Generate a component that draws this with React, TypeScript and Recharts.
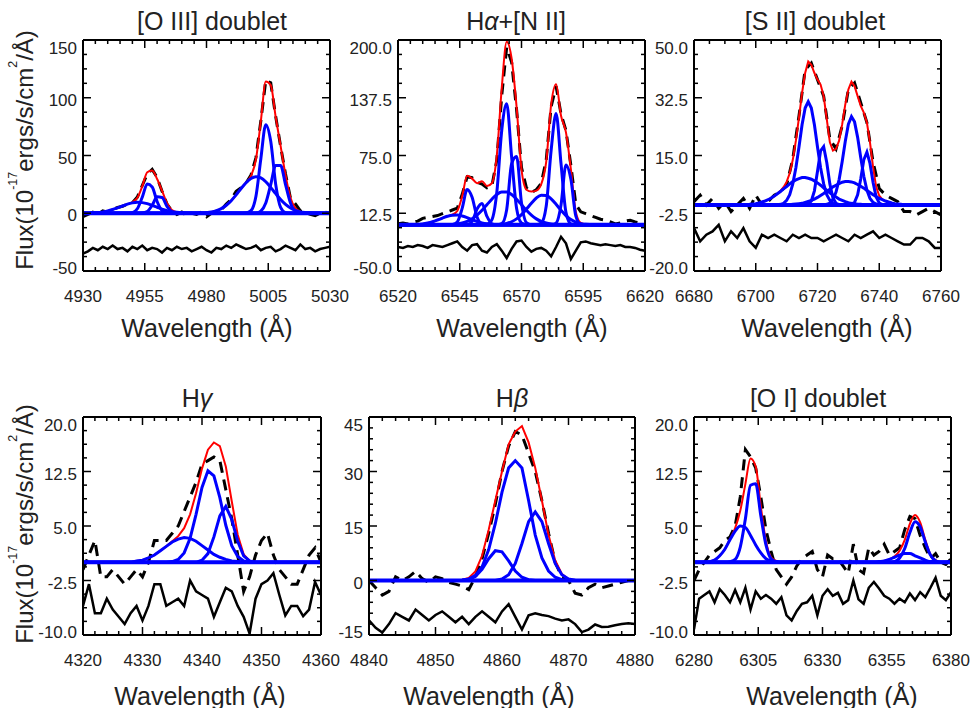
import type { ReactNode } from "react";
import { Line, LineChart, XAxis, YAxis } from "recharts";

const FONT = '"Liberation Sans", Arial, Helvetica, sans-serif';
const INK = "#222";
const RED = "#ff0000";
const BLUE = "#0000ff";

// fitted continuum level (spectra are continuum-subtracted)
const continuum = [0, 0];

// ---------- [O III] 4959, 5007 ----------
const o3XTicks = [4930, 4955, 4980, 5005, 5030];
const o3YTicks = [-50, 0, 50, 100, 150];
const o3Wave = [
  4930, 4932, 4934, 4936, 4938, 4940, 4942, 4944, 4946, 4948,
  4950, 4952, 4954, 4956, 4958, 4960, 4962, 4964, 4966, 4968,
  4970, 4972, 4974, 4976, 4978, 4980, 4982, 4984, 4986, 4988,
  4990, 4992, 4994, 4996, 4998, 5000, 5002, 5004, 5006, 5008,
  5010, 5012, 5014, 5016, 5018, 5020, 5022, 5024, 5026, 5028,
  5030,
];
const o3Obs = [
  -3, -1, 1, -1, 2, 1, 3, 5, 6, 8,
  9, 14, 24, 34, 38, 31, 19, 8, 2, -1,
  1, -2, 0, -1, 1, -3, 0, 2, 3, 8,
  12, 19, 22, 26, 33, 48, 80, 115, 113, 84,
  58, 34, 13, 8, 2, 1, -1, -2, 0, 1,
  0,
];
const o3Fit = [
  0.1, 0.1, 0.3, 0.6, 1.2, 2.0, 3.2, 4.7, 6.3, 7.9,
  9.5, 13.4, 23.4, 35.5, 37, 29.6, 19.5, 8.6, 2.7, 0.9,
  0.4, 0.2, 0.1, 0.1, 0.2, 0.5, 1.1, 2.2, 4.0, 6.9,
  10.9, 15.9, 21.4, 26.6, 32.3, 46.4, 79.7, 114, 111, 83.5,
  58.3, 32.9, 13.4, 4.4, 1.4, 0.6, 0.3, 0.1, 0, 0,
  0,
];
const o3Resid = [
  -35, -33, -30, -32, -29, -31, -28, -31, -30, -33,
  -29, -31, -28, -32, -30, -31, -34, -30, -32, -29,
  -31, -30, -33, -31, -29, -32, -34, -30, -31, -28,
  -30, -27, -29, -31, -30, -28, -32, -30, -29, -33,
  -31, -28, -30, -32, -27, -31, -30, -33, -31, -30,
  -29,
];
const o3BroadA = [
  0.1, 0.1, 0.3, 0.6, 1.2, 2.0, 3.2, 4.7, 6.3, 7.9,
  9.0, 9.5, 9.2, 8.3, 6.8, 5.2, 3.6, 2.3, 1.4, 0.8,
  0.4, 0.2, 0.1, 0, 0, 0, 0, 0, 0, 0,
  0, 0, 0, 0, 0, 0, 0, 0, 0, 0,
  0, 0, 0, 0, 0, 0, 0, 0, 0, 0,
  0,
];
const o3NarrowA = [
  0, 0, 0, 0, 0, 0, 0, 0, 0, 0,
  0.5, 3.9, 14.0, 25.3, 22.8, 10.2, 2.3, 0.3, 0, 0,
  0, 0, 0, 0, 0, 0, 0, 0, 0, 0,
  0, 0, 0, 0, 0, 0, 0, 0, 0, 0,
  0, 0, 0, 0, 0, 0, 0, 0, 0, 0,
  0,
];
const o3RedA = [
  0, 0, 0, 0, 0, 0, 0, 0, 0, 0,
  0, 0, 0.2, 1.5, 6.8, 14.2, 13.6, 6.0, 1.3, 0.1,
  0, 0, 0, 0, 0, 0, 0, 0, 0, 0,
  0, 0, 0, 0, 0, 0, 0, 0, 0, 0,
  0, 0, 0, 0, 0, 0, 0, 0, 0, 0,
  0,
];
const o3BroadB = [
  0, 0, 0, 0, 0, 0, 0, 0, 0, 0,
  0, 0, 0, 0, 0, 0, 0, 0, 0, 0,
  0, 0, 0, 0.1, 0.2, 0.5, 1.1, 2.2, 4.0, 6.9,
  10.9, 15.9, 21.4, 26.4, 30.1, 31.6, 30.6, 27.3, 22.4, 17.0,
  11.9, 7.6, 4.5, 2.5, 1.2, 0.6, 0.3, 0.1, 0, 0,
  0,
];
const o3NarrowB = [
  0, 0, 0, 0, 0, 0, 0, 0, 0, 0,
  0, 0, 0, 0, 0, 0, 0, 0, 0, 0,
  0, 0, 0, 0, 0, 0, 0, 0, 0, 0,
  0, 0, 0, 0.2, 2.2, 14.5, 47.2, 76.7, 62.3, 25.2,
  5.1, 0.5, 0, 0, 0, 0, 0, 0, 0, 0,
  0,
];
const o3RedB = [
  0, 0, 0, 0, 0, 0, 0, 0, 0, 0,
  0, 0, 0, 0, 0, 0, 0, 0, 0, 0,
  0, 0, 0, 0, 0, 0, 0, 0, 0, 0,
  0, 0, 0, 0, 0, 0, 1.9, 8.9, 24.8, 41.3,
  41.3, 24.8, 8.9, 1.9, 0.2, 0, 0, 0, 0, 0,
  0,
];

// ---------- H-alpha + [N II] ----------
const haXTicks = [6520, 6545, 6570, 6595, 6620];
const haYTicks = [-50, 12.5, 75, 137.5, 200];
const haWave = [
  6520, 6522, 6524, 6526, 6528, 6530, 6532, 6534, 6536, 6538,
  6540, 6542, 6544, 6546, 6548, 6550, 6552, 6554, 6556, 6558,
  6560, 6562, 6564, 6566, 6568, 6570, 6572, 6574, 6576, 6578,
  6580, 6582, 6584, 6586, 6588, 6590, 6592, 6594, 6596, 6598,
  6600, 6602, 6604, 6606, 6608, 6610, 6612, 6614, 6616, 6618,
  6620,
];
const haObs = [
  1, 2, 1, 3, 4, 7, 8, 9, 10, 12,
  14, 16, 18, 33, 52, 51, 46, 44, 40, 42,
  70, 140, 192, 176, 125, 62, 40, 35, 38, 45,
  70, 128, 150, 120, 102, 64, 22, 14, 12, 10,
  8, 6, 5, 3, 1, 2, 4, 5, 3, 2,
  1,
];
const haFit = [
  0, 0, 0.1, 0.2, 0.4, 0.9, 1.9, 3.3, 5.2, 7.3,
  9.4, 11, 15, 31, 53, 50, 45, 47, 42, 45,
  75, 148, 198, 180, 128, 60, 38, 36, 37, 44,
  68, 130, 152, 118, 100, 60, 14, 2, 0.5, 0.2,
  0, 0, 0, 0, 0, 0, 0, 0, 0, 0,
  0,
];
const haResid = [
  -24, -25, -23, -24, -22, -23, -25, -22, -23, -24,
  -22, -20, -18, -24, -28, -22, -21, -28, -30, -24,
  -21, -28, -36, -26, -18, -17, -24, -29, -26, -25,
  -28, -34, -24, -13, -20, -37, -28, -19, -18, -20,
  -21, -22, -21, -22, -23, -22, -24, -24, -25, -27,
  -28,
];
const haN1Broad = [
  0, 0, 0.1, 0.2, 0.4, 0.9, 1.9, 3.3, 5.2, 7.3,
  9.2, 10.4, 10.5, 9.5, 7.7, 5.6, 3.6, 2.1, 1.1, 0.5,
  0.2, 0.1, 0, 0, 0, 0, 0, 0, 0, 0,
  0, 0, 0, 0, 0, 0, 0, 0, 0, 0,
  0, 0, 0, 0, 0, 0, 0, 0, 0, 0,
  0,
];
const haN1Narrow = [
  0, 0, 0, 0, 0, 0, 0, 0, 0, 0,
  0, 0.2, 3.1, 18.1, 38.3, 29.8, 8.5, 0.9, 0, 0,
  0, 0, 0, 0, 0, 0, 0, 0, 0, 0,
  0, 0, 0, 0, 0, 0, 0, 0, 0, 0,
  0, 0, 0, 0, 0, 0, 0, 0, 0, 0,
  0,
];
const haN1Red = [
  0, 0, 0, 0, 0, 0, 0, 0, 0, 0,
  0, 0, 0, 0, 0.2, 3.7, 17.0, 23.1, 9.2, 1.1,
  0, 0, 0, 0, 0, 0, 0, 0, 0, 0,
  0, 0, 0, 0, 0, 0, 0, 0, 0, 0,
  0, 0, 0, 0, 0, 0, 0, 0, 0, 0,
  0,
];
const haBroad = [
  0, 0, 0, 0, 0, 0, 0, 0, 0, 0,
  0.2, 0.4, 0.9, 1.9, 3.6, 6.4, 10.4, 15.7, 21.7, 27.7,
  32.7, 35.4, 35.4, 32.7, 27.7, 21.7, 15.7, 10.4, 6.4, 3.6,
  1.9, 0.9, 0.4, 0.2, 0, 0, 0, 0, 0, 0,
  0, 0, 0, 0, 0, 0, 0, 0, 0, 0,
  0,
];
const haNarrow = [
  0, 0, 0, 0, 0, 0, 0, 0, 0, 0,
  0, 0, 0, 0, 0, 0, 0, 0, 0.3, 5.3,
  35.0, 102.1, 130.9, 73.4, 18.0, 2.0, 0.1, 0, 0, 0,
  0, 0, 0, 0, 0, 0, 0, 0, 0, 0,
  0, 0, 0, 0, 0, 0, 0, 0, 0, 0,
  0,
];
const haRed = [
  0, 0, 0, 0, 0, 0, 0, 0, 0, 0,
  0, 0, 0, 0, 0, 0, 0, 0, 0, 0,
  0, 1.2, 16.4, 66, 74, 23.7, 2.3, 0.1, 0, 0,
  0, 0, 0, 0, 0, 0, 0, 0, 0, 0,
  0, 0, 0, 0, 0, 0, 0, 0, 0, 0,
  0,
];
const haN2Broad = [
  0, 0, 0, 0, 0, 0, 0, 0, 0, 0,
  0, 0, 0, 0, 0, 0, 0, 0, 0, 0,
  0.2, 0.6, 1.5, 3.3, 6.4, 11.0, 17.0, 23.4, 29.0, 32.0,
  31.7, 28.0, 22.2, 15.7, 10.0, 5.7, 2.9, 1.3, 0.5, 0.2,
  0, 0, 0, 0, 0, 0, 0, 0, 0, 0,
  0,
];
const haN2Narrow = [
  0, 0, 0, 0, 0, 0, 0, 0, 0, 0,
  0, 0, 0, 0, 0, 0, 0, 0, 0, 0,
  0, 0, 0, 0, 0, 0, 0, 0, 0.1, 1.8,
  20.0, 80.7, 120.4, 66.1, 13.4, 1.0, 0, 0, 0, 0,
  0, 0, 0, 0, 0, 0, 0, 0, 0, 0,
  0,
];
const haN2Red = [
  0, 0, 0, 0, 0, 0, 0, 0, 0, 0,
  0, 0, 0, 0, 0, 0, 0, 0, 0, 0,
  0, 0, 0, 0, 0, 0, 0, 0, 0, 0,
  0, 0, 1.8, 21.5, 64.8, 49.2, 9.4, 0.4, 0, 0,
  0, 0, 0, 0, 0, 0, 0, 0, 0, 0,
  0,
];

// ---------- [S II] 6716, 6731 ----------
const s2XTicks = [6680, 6700, 6720, 6740, 6760];
const s2YTicks = [-20, -2.5, 15, 32.5, 50];
const s2Wave = [
  6680, 6682, 6684, 6686, 6688, 6690, 6692, 6694, 6696, 6698,
  6700, 6702, 6704, 6706, 6708, 6710, 6712, 6714, 6716, 6718,
  6720, 6722, 6724, 6726, 6728, 6730, 6732, 6734, 6736, 6738,
  6740, 6742, 6744, 6746, 6748, 6750, 6752, 6754, 6756, 6758,
  6760,
];
const s2Obs = [
  1, 3, 0, 2, -1, 1, -2, 0, 2, -1,
  3, 0, 1, 3, 4, 6, 14, 27, 41, 43,
  38, 33, 20, 17, 24, 35, 37, 31, 25, 13,
  5, 3, 2, 1, -2, -2, -3, -2, -1, -2,
  -3,
];
const s2Resid = [
  -7, -11, -9, -8, -6, -11, -8, -10, -7, -11,
  -13, -9, -10, -9, -10, -11, -9, -10, -9, -10,
  -10, -11, -10, -9, -10, -11, -9, -10, -9, -8,
  -10, -9, -10, -11, -12, -12, -10, -10, -11, -13,
  -13,
];
const s2FitWave = [
  6698, 6699, 6700, 6701, 6702, 6703, 6704, 6705, 6706, 6707,
  6708, 6709, 6710, 6711, 6712, 6713, 6714, 6715, 6716, 6717,
  6718, 6719, 6720, 6721, 6722, 6723, 6724, 6725, 6726, 6727,
  6728, 6729, 6730, 6731, 6732, 6733, 6734, 6735, 6736, 6737,
  6738, 6739, 6740, 6741, 6742, 6743, 6744, 6745, 6746, 6747,
  6748,
];
const s2Fit = [
  0.2, 0.3, 0.4, 0.6, 0.9, 1.2, 1.6, 2.1, 2.7, 3.4,
  4.3, 5.4, 7.0, 9.6, 13.7, 19.5, 26.5, 34, 40, 43.5,
  42.5, 40, 38, 36.5, 33, 26, 19, 16.5, 17, 19.5,
  24.5, 30.5, 35, 37.4, 36, 33, 30, 28, 25, 19,
  11.5, 5.5, 2.8, 1.7, 1.2, 0.9, 0.6, 0.4, 0.3, 0.2,
  0.1,
];
const s2BroadA = [
  0.2, 0.3, 0.4, 0.6, 0.9, 1.2, 1.6, 2.1, 2.7, 3.4,
  4.1, 4.9, 5.6, 6.4, 7.1, 7.6, 8.0, 8.3, 8.3, 8.1,
  7.8, 7.3, 6.7, 6.0, 5.2, 4.4, 3.7, 3.0, 2.4, 1.8,
  1.4, 1.0, 0.7, 0.5, 0.4, 0.2, 0.2, 0.1, 0.1, 0,
  0, 0, 0, 0, 0, 0, 0, 0, 0, 0,
  0,
];
const s2NarrowA = [
  0, 0, 0, 0, 0, 0, 0, 0, 0, 0,
  0.2, 0.5, 1.4, 3.1, 6.4, 11.3, 17.6, 24.3, 29.4, 31.3,
  29.4, 24.3, 17.6, 11.3, 6.4, 3.1, 1.4, 0.5, 0.2, 0,
  0, 0, 0, 0, 0, 0, 0, 0, 0, 0,
  0, 0, 0, 0, 0, 0, 0, 0, 0, 0,
  0,
];
const s2RedA = [
  0, 0, 0, 0, 0, 0, 0, 0, 0, 0,
  0, 0, 0, 0, 0, 0, 0, 0, 0, 0.2,
  1.2, 4.3, 10.2, 16.4, 17.7, 12.9, 6.4, 2.1, 0.5, 0.1,
  0, 0, 0, 0, 0, 0, 0, 0, 0, 0,
  0, 0, 0, 0, 0, 0, 0, 0, 0, 0,
  0,
];
const s2BroadB = [
  0, 0, 0, 0, 0, 0, 0, 0, 0, 0,
  0, 0, 0, 0.1, 0.2, 0.3, 0.4, 0.5, 0.8, 1.1,
  1.4, 1.8, 2.3, 2.9, 3.5, 4.2, 4.8, 5.5, 6.0, 6.5,
  6.9, 7.1, 7.1, 7.0, 6.7, 6.2, 5.7, 5.1, 4.4, 3.8,
  3.1, 2.6, 2.0, 1.6, 1.2, 0.9, 0.6, 0.4, 0.3, 0.2,
  0.1,
];
const s2NarrowB = [
  0, 0, 0, 0, 0, 0, 0, 0, 0, 0,
  0, 0, 0, 0, 0, 0, 0, 0, 0, 0,
  0, 0, 0, 0, 0, 0.2, 0.6, 1.7, 3.9, 7.7,
  13.2, 19.3, 24.5, 26.8, 25.2, 20.5, 14.4, 8.7, 4.5, 2.0,
  0.8, 0.3, 0.1, 0, 0, 0, 0, 0, 0, 0,
  0,
];
const s2RedB = [
  0, 0, 0, 0, 0, 0, 0, 0, 0, 0,
  0, 0, 0, 0, 0, 0, 0, 0, 0, 0,
  0, 0, 0, 0, 0, 0, 0, 0, 0, 0,
  0, 0, 0, 0.1, 0.8, 3.1, 7.9, 13.7, 16.0, 12.6,
  6.8, 2.4, 0.6, 0.1, 0, 0, 0, 0, 0, 0,
  0,
];

// ---------- H-gamma ----------
const hgXTicks = [4320, 4330, 4340, 4350, 4360];
const hgYTicks = [-10, -2.5, 5, 12.5, 20];
const hgWave = [
  4320, 4321, 4322, 4323, 4324, 4325, 4326, 4327, 4328, 4329,
  4330, 4331, 4332, 4333, 4334, 4335, 4336, 4337, 4338, 4339,
  4340, 4341, 4342, 4343, 4344, 4345, 4346, 4347, 4348, 4349,
  4350, 4351, 4352, 4353, 4354, 4355, 4356, 4357, 4358, 4359,
  4360,
];
const hgObs = [
  -1, 1, 3, -2, -2, -1, -2, -3, -2, -1,
  -2, 0, 3, 3, 3, 4, 5, 7, 9, 11,
  13.5, 14, 14.5, 14, 10, 6, 1, -4, -2, 1,
  3, 4, 1, -1, -2, -3, -3, -1, 1, 2,
  0,
];
const hgFit = [
  0, 0, 0, 0, 0, 0, 0, 0, 0, 0.2,
  0.3, 0.6, 1.0, 1.6, 2.2, 2.9, 3.6, 4.7, 6.6, 9.5,
  12.9, 15.5, 16.5, 16.0, 13.2, 8.4, 3.8, 1.1, 0.2, 0,
  0, 0, 0, 0, 0, 0, 0, 0, 0, 0,
  0,
];
const hgResid = [
  -6, -3, -7, -7, -5, -6.5, -7.5, -8.5, -7, -6,
  -8, -6, -3, -3, -6, -5.5, -5, -6, -2.5, -4,
  -4.5, -5, -7.5, -5.5, -3.5, -4, -6, -7.5, -9.8, -5,
  -3, -2.5, -1.5, -4.5, -7.3, -6, -6, -7.4, -6.5, -2.7,
  -4.5,
];
const hgBroad = [
  0, 0, 0, 0, 0, 0, 0, 0, 0, 0.2,
  0.3, 0.6, 1.0, 1.6, 2.2, 2.8, 3.2, 3.4, 3.3, 2.9,
  2.3, 1.7, 1.1, 0.7, 0.4, 0.2, 0.1, 0, 0, 0,
  0, 0, 0, 0, 0, 0, 0, 0, 0, 0,
  0,
];
const hgNarrow = [
  0, 0, 0, 0, 0, 0, 0, 0, 0, 0,
  0, 0, 0, 0, 0, 0.1, 0.4, 1.3, 3.3, 6.6,
  10.3, 12.6, 11.9, 8.9, 5.1, 2.3, 0.8, 0.2, 0, 0,
  0, 0, 0, 0, 0, 0, 0, 0, 0, 0,
  0,
];
const hgRed = [
  0, 0, 0, 0, 0, 0, 0, 0, 0, 0,
  0, 0, 0, 0, 0, 0, 0, 0, 0, 0,
  0.3, 1.2, 3.5, 6.4, 7.7, 5.9, 2.9, 0.9, 0.2, 0,
  0, 0, 0, 0, 0, 0, 0, 0, 0, 0,
  0,
];

// ---------- H-beta ----------
const hbXTicks = [4840, 4850, 4860, 4870, 4880];
const hbYTicks = [-15, 0, 15, 30, 45];
const hbWave = [
  4840, 4841, 4842, 4843, 4844, 4845, 4846, 4847, 4848, 4849,
  4850, 4851, 4852, 4853, 4854, 4855, 4856, 4857, 4858, 4859,
  4860, 4861, 4862, 4863, 4864, 4865, 4866, 4867, 4868, 4869,
  4870, 4871, 4872, 4873, 4874, 4875, 4876, 4877, 4878, 4879,
  4880,
];
const hbObs = [
  0, -2, -4, -3, 1, 0, 1, 2.5, 0.5, -0.5,
  1, 0.5, -0.5, -1, -1.5, -2.5, 1, 6, 13, 21,
  30, 37, 41, 40, 35, 30, 22, 13, 5, 1,
  0, -3.5, -4, -2, -1, -2, -1.5, -1, -0.5, 0,
  0,
];
const hbFit = [
  0, 0, 0, 0, 0, 0, 0, 0, 0, 0,
  0, 0, 0, 0, 0.2, 0.7, 2.5, 6.8, 14, 22,
  30, 37.5, 41, 42.5, 38, 31, 22, 12.5, 5.5, 1.8,
  0.4, 0.1, 0, 0, 0, 0, 0, 0, 0, 0,
  0,
];
const hbResid = [
  -11, -13, -14.3, -12, -9, -10, -11, -8, -9.5, -11,
  -9.5, -8.5, -10, -11.5, -10, -12, -10, -8.5, -10, -11.5,
  -8.5, -6.5, -10, -13.5, -9.6, -9, -9.5, -9.8, -10.5, -11,
  -10.7, -12, -14.2, -13.5, -12.1, -12.8, -12.7, -12.3, -12, -11.8,
  -12,
];
const hbMain = [
  0, 0, 0, 0, 0, 0, 0, 0, 0, 0,
  0, 0, 0, 0, 0.1, 0.4, 1.4, 3.7, 8.5, 15.7,
  24.3, 31.0, 33.0, 31.0, 22.0, 12.5, 6.2, 2.6, 0.9, 0.2,
  0, 0, 0, 0, 0, 0, 0, 0, 0, 0,
  0,
];
const hbRed = [
  0, 0, 0, 0, 0, 0, 0, 0, 0, 0,
  0, 0, 0, 0, 0, 0, 0, 0, 0, 0,
  0.4, 1.6, 4.7, 10.2, 16.2, 18.9, 16.2, 10.2, 4.7, 1.6,
  0.4, 0.1, 0, 0, 0, 0, 0, 0, 0, 0,
  0,
];
const hbBlue = [
  0, 0, 0, 0, 0, 0, 0, 0, 0, 0,
  0, 0, 0, 0, 0.1, 0.3, 1.1, 3.1, 6.0, 8.2,
  7.9, 5.4, 2.6, 0.9, 0.2, 0, 0, 0, 0, 0,
  0, 0, 0, 0, 0, 0, 0, 0, 0, 0,
  0,
];

// ---------- [O I] 6300, 6363 ----------
const o1XTicks = [6280, 6305, 6330, 6355, 6380];
const o1YTicks = [-10, -2.5, 5, 12.5, 20];
const o1Wave = [
  6280, 6282, 6284, 6286, 6288, 6290, 6292, 6294, 6296, 6298,
  6300, 6302, 6304, 6306, 6308, 6310, 6312, 6314, 6316, 6318,
  6320, 6322, 6324, 6326, 6328, 6330, 6332, 6334, 6336, 6338,
  6340, 6342, 6344, 6346, 6348, 6350, 6352, 6354, 6356, 6358,
  6360, 6362, 6364, 6366, 6368, 6370, 6372, 6374, 6376, 6378,
  6380,
];
const o1Obs = [
  -2.5, -1, 0, 1, 1.5, 2, 3, 3.5, 5, 9,
  15.5, 14.5, 13, 9, 4.5, 1.5, -1, -2, -3, -2,
  -0.5, 0.5, 1, 1.5, -1, -2, 1, 0.5, 0.5, -0.5,
  -1.5, 2.5, -1, -1.5, 2, 1, 1.5, 2.5, 1, 1.5,
  2, 4.5, 6.3, 6, 3.7, 2, 0.5, 1.2, 0, -0.3,
  0.5,
];
const o1Fit = [
  0, 0, 0, 0.1, 0.3, 0.9, 1.8, 3.2, 4.7, 7.1,
  10.8, 14.3, 13.2, 7.7, 2.9, 0.7, 0.2, 0, 0, 0,
  0, 0, 0, 0, 0, 0, 0, 0, 0, 0,
  0, 0, 0, 0, 0, 0, 0.1, 0.2, 0.4, 0.8,
  1.6, 3.1, 5.3, 6.5, 5.5, 3.1, 1.1, 0.3, 0, 0,
  0,
];
const o1Resid = [
  -9.2, -5, -4.5, -4, -5.5, -3.7, -4.5, -5.5, -3.8, -5.5,
  -3.5, -6.5, -4, -5, -4.5, -5, -5.7, -4.8, -7.3, -8,
  -6.7, -5.7, -5.5, -4.6, -7.3, -4.6, -3.7, -4.6, -4.2, -5.7,
  -5.2, -2.5, -5.1, -5.7, -3.5, -2.7, -3.6, -4.6, -5, -5.7,
  -5, -5.5, -4.3, -5.2, -4.1, -4.8, -3.5, -2.1, -4.6, -5.2,
  -4.1,
];
const o1NarrowA = [
  0, 0, 0, 0, 0, 0, 0, 0.1, 0.4, 2.1,
  6.0, 10.6, 10.8, 6.4, 2.4, 0.5, 0.1, 0, 0, 0,
  0, 0, 0, 0, 0, 0, 0, 0, 0, 0,
  0, 0, 0, 0, 0, 0, 0, 0, 0, 0,
  0, 0, 0, 0, 0, 0, 0, 0, 0, 0,
  0,
];
const o1BroadA = [
  0, 0, 0, 0.1, 0.3, 0.9, 1.8, 3.1, 4.3, 5.0,
  4.8, 3.7, 2.4, 1.3, 0.5, 0.2, 0.1, 0, 0, 0,
  0, 0, 0, 0, 0, 0, 0, 0, 0, 0,
  0, 0, 0, 0, 0, 0, 0, 0, 0, 0,
  0, 0, 0, 0, 0, 0, 0, 0, 0, 0,
  0,
];
const o1NarrowB = [
  0, 0, 0, 0, 0, 0, 0, 0, 0, 0,
  0, 0, 0, 0, 0, 0, 0, 0, 0, 0,
  0, 0, 0, 0, 0, 0, 0, 0, 0, 0,
  0, 0, 0, 0, 0, 0, 0, 0, 0, 0.1,
  0.6, 1.9, 4.1, 5.6, 4.9, 2.8, 1.0, 0.2, 0, 0,
  0,
];
const o1BroadB = [
  0, 0, 0, 0, 0, 0, 0, 0, 0, 0,
  0, 0, 0, 0, 0, 0, 0, 0, 0, 0,
  0, 0, 0, 0, 0, 0, 0, 0, 0, 0,
  0, 0, 0, 0, 0, 0, 0.1, 0.2, 0.4, 0.7,
  1.0, 1.2, 1.2, 0.9, 0.6, 0.3, 0.1, 0.1, 0, 0,
  0,
];

type Panel = {
  id: string;
  plot: { left: number; top: number; width: number; height: number };
  xTicks: number[];
  xParts: number;
  yTicks: number[];
  yParts: number;
  yDecimals: number;
  wave: number[];
  obs: number[];
  resid: number[];
  fitWave: number[];
  fit: number[];
  comps: number[][];
  curve: "linear" | "monotone";
};

const panels: Panel[] = [
  {
    id: "o3",
    plot: { left: 83, top: 40, width: 247, height: 231 },
    xTicks: o3XTicks, xParts: 5, yTicks: o3YTicks, yParts: 4, yDecimals: 0,
    wave: o3Wave, obs: o3Obs, resid: o3Resid, fitWave: o3Wave, fit: o3Fit,
    comps: [o3BroadA, o3NarrowA, o3RedA, o3BroadB, o3NarrowB, o3RedB],
    curve: "monotone",
  },
  {
    id: "ha",
    plot: { left: 398, top: 40, width: 247, height: 231 },
    xTicks: haXTicks, xParts: 5, yTicks: haYTicks, yParts: 4, yDecimals: 1,
    wave: haWave, obs: haObs, resid: haResid, fitWave: haWave, fit: haFit,
    comps: [haN1Broad, haN1Narrow, haN1Red, haBroad, haNarrow, haRed, haN2Broad, haN2Narrow, haN2Red],
    curve: "monotone",
  },
  {
    id: "s2",
    plot: { left: 694, top: 40, width: 247, height: 231 },
    xTicks: s2XTicks, xParts: 4, yTicks: s2YTicks, yParts: 4, yDecimals: 1,
    wave: s2Wave, obs: s2Obs, resid: s2Resid, fitWave: s2FitWave, fit: s2Fit,
    comps: [s2BroadA, s2NarrowA, s2RedA, s2BroadB, s2NarrowB, s2RedB],
    curve: "linear",
  },
  {
    id: "hg",
    plot: { left: 83, top: 417, width: 238, height: 218 },
    xTicks: hgXTicks, xParts: 5, yTicks: hgYTicks, yParts: 4, yDecimals: 1,
    wave: hgWave, obs: hgObs, resid: hgResid, fitWave: hgWave, fit: hgFit,
    comps: [hgBroad, hgNarrow, hgRed],
    curve: "linear",
  },
  {
    id: "hb",
    plot: { left: 369, top: 417, width: 266, height: 218 },
    xTicks: hbXTicks, xParts: 5, yTicks: hbYTicks, yParts: 5, yDecimals: 0,
    wave: hbWave, obs: hbObs, resid: hbResid, fitWave: hbWave, fit: hbFit,
    comps: [hbMain, hbRed, hbBlue],
    curve: "linear",
  },
  {
    id: "o1",
    plot: { left: 694, top: 417, width: 257, height: 218 },
    xTicks: o1XTicks, xParts: 5, yTicks: o1YTicks, yParts: 4, yDecimals: 1,
    wave: o1Wave, obs: o1Obs, resid: o1Resid, fitWave: o1Wave, fit: o1Fit,
    comps: [o1NarrowA, o1BroadA, o1NarrowB, o1BroadB],
    curve: "monotone",
  },
];

const toRows = (wave: number[], flux: number[]) =>
  wave.map((x, i) => ({ x, y: flux[i] }));

// major ticks plus evenly spaced minor ticks between them
function withMinor(majors: number[], parts: number) {
  const out: number[] = [];
  for (let i = 0; i < majors.length - 1; i++) {
    const a = majors[i];
    const b = majors[i + 1];
    for (let k = 0; k < parts; k++) out.push(+(a + ((b - a) * k) / parts).toFixed(4));
  }
  out.push(majors[majors.length - 1]);
  return out;
}

const isMajor = (majors: number[], v: number) => majors.some((m) => Math.abs(m - v) < 1e-6);

function xTick(majors: number[], side: "bottom" | "top") {
  return (p: any) => {
    const v = p.payload.value as number;
    const major = isMajor(majors, v);
    const len = major ? 8 : 4;
    const dir = side === "bottom" ? -1 : 1;
    return (
      <g>
        <line x1={p.x} y1={p.y} x2={p.x} y2={p.y + dir * len} stroke="#000" strokeWidth={1.5} />
        {major && side === "bottom" && (
          <text x={p.x} y={p.y + 31} textAnchor="middle" fontSize={17} fontFamily={FONT} fill={INK}>
            {v}
          </text>
        )}
      </g>
    );
  };
}

function yTick(majors: number[], decimals: number, side: "left" | "right") {
  const lo = majors[0];
  const hi = majors[majors.length - 1];
  return (p: any) => {
    const v = p.payload.value as number;
    const major = isMajor(majors, v);
    const len = major ? 8 : 4;
    const dir = side === "left" ? 1 : -1;
    const shift = Math.abs(v - hi) < 1e-6 ? 8 : Math.abs(v - lo) < 1e-6 ? -3 : 2;
    return (
      <g>
        <line x1={p.x} y1={p.y} x2={p.x + dir * len} y2={p.y} stroke="#000" strokeWidth={1.5} />
        {major && side === "left" && (
          <text x={p.x - 6} y={p.y + shift + 6} textAnchor="end" fontSize={17} fontFamily={FONT} fill={INK}>
            {v.toFixed(decimals)}
          </text>
        )}
      </g>
    );
  };
}

// chart margins around the plot area; every axis is 1px thick so Recharts draws it
const ML = 80;
const MR = 24;
const MT = 12;
const MB = 44;
const AX = 1;
const frame = { stroke: "#000", strokeWidth: 2 };

function SpectrumPanel({ p }: { p: Panel }) {
  const { left, top, width, height } = p.plot;
  const xDomain: [number, number] = [p.xTicks[0], p.xTicks[p.xTicks.length - 1]];
  const yDomain: [number, number] = [p.yTicks[0], p.yTicks[p.yTicks.length - 1]];
  const xAll = withMinor(p.xTicks, p.xParts);
  const yAll = withMinor(p.yTicks, p.yParts);
  return (
    <div style={{ position: "absolute", left: left - ML - AX, top: top - MT - AX }}>
      <LineChart
        width={width + ML + MR + 2 * AX}
        height={height + MT + MB + 2 * AX}
        margin={{ top: MT, right: MR, bottom: MB, left: ML }}
      >
        <XAxis
          dataKey="x" type="number" domain={xDomain} ticks={xAll} interval={0}
          allowDataOverflow height={AX} tickSize={0} tickMargin={0} tickLine={false}
          axisLine={frame} tick={xTick(p.xTicks, "bottom")}
        />
        <XAxis
          xAxisId="top" orientation="top" dataKey="x" type="number" domain={xDomain}
          ticks={xAll} interval={0} allowDataOverflow height={AX} tickSize={0}
          tickMargin={0} tickLine={false} axisLine={frame} tick={xTick(p.xTicks, "top")}
        />
        <YAxis
          type="number" domain={yDomain} ticks={yAll} interval={0} allowDataOverflow
          width={AX} tickSize={0} tickMargin={0} tickLine={false} axisLine={frame}
          tick={yTick(p.yTicks, p.yDecimals, "left")}
        />
        <YAxis
          yAxisId="right" orientation="right" type="number" domain={yDomain}
          ticks={yAll} interval={0} allowDataOverflow width={AX} tickSize={0}
          tickMargin={0} tickLine={false} axisLine={frame}
          tick={yTick(p.yTicks, p.yDecimals, "right")}
        />
        <Line
          data={toRows(p.wave, p.obs)} dataKey="y" type="linear" stroke="#000"
          strokeWidth={3} strokeDasharray="11 7" dot={false} isAnimationActive={false}
        />
        <Line
          data={toRows(p.fitWave, p.fit)} dataKey="y" type={p.curve} stroke={RED}
          strokeWidth={2} dot={false} isAnimationActive={false}
        />
        {p.comps.map((c, i) => (
          <Line
            key={i} data={toRows(p.fitWave, c)} dataKey="y" type={p.curve}
            stroke={BLUE} strokeWidth={3} dot={false} isAnimationActive={false}
          />
        ))}
        <Line
          data={toRows(xDomain, continuum)} dataKey="y" type="linear" stroke={BLUE}
          strokeWidth={4} dot={false} isAnimationActive={false}
        />
        <Line
          data={toRows(p.wave, p.resid)} dataKey="y" type="linear" stroke="#000"
          strokeWidth={2.5} dot={false} isAnimationActive={false}
        />
      </LineChart>
    </div>
  );
}

function Caption({ x, y, size = 25, rotate = false, children }: {
  x: number; y: number; size?: number; rotate?: boolean; children: ReactNode;
}) {
  return (
    <div
      style={{
        position: "absolute", left: x, top: y,
        transform: `translate(-50%, -50%)${rotate ? " rotate(-90deg)" : ""}`,
        fontSize: size, fontFamily: FONT, color: INK, whiteSpace: "nowrap", lineHeight: 1,
      }}
    >
      {children}
    </div>
  );
}

const sup = { fontSize: "0.52em", position: "relative" as const, top: "-1.3em" };

function FluxLabel() {
  return (
    <>
      Flux(10<span style={sup}>-17</span>ergs/s/cm<span style={sup}>2</span>/Å)
    </>
  );
}

export default function App() {
  return (
    <div
      style={{
        position: "absolute", left: 0, top: 0, width: 972, height: 708,
        overflow: "hidden", background: "#fff",
      }}
    >
      {panels.map((p) => (
        <SpectrumPanel key={p.id} p={p} />
      ))}
      <Caption x={212} y={21}>[O III] doublet</Caption>
      <Caption x={516} y={21}>H<i>α</i>+[N II]</Caption>
      <Caption x={815} y={21}>[S II] doublet</Caption>
      <Caption x={197} y={398}>H<i>γ</i></Caption>
      <Caption x={512} y={398}>H<i>β</i></Caption>
      <Caption x={818} y={398}>[O I] doublet</Caption>
      <Caption x={207} y={328}>Wavelength (Å)</Caption>
      <Caption x={522} y={328}>Wavelength (Å)</Caption>
      <Caption x={827} y={328}>Wavelength (Å)</Caption>
      <Caption x={200} y={696}>Wavelength (Å)</Caption>
      <Caption x={489} y={696}>Wavelength (Å)</Caption>
      <Caption x={832} y={696}>Wavelength (Å)</Caption>
      <Caption x={25} y={150} size={24} rotate><FluxLabel /></Caption>
      <Caption x={25} y={524} size={24} rotate><FluxLabel /></Caption>
    </div>
  );
}
